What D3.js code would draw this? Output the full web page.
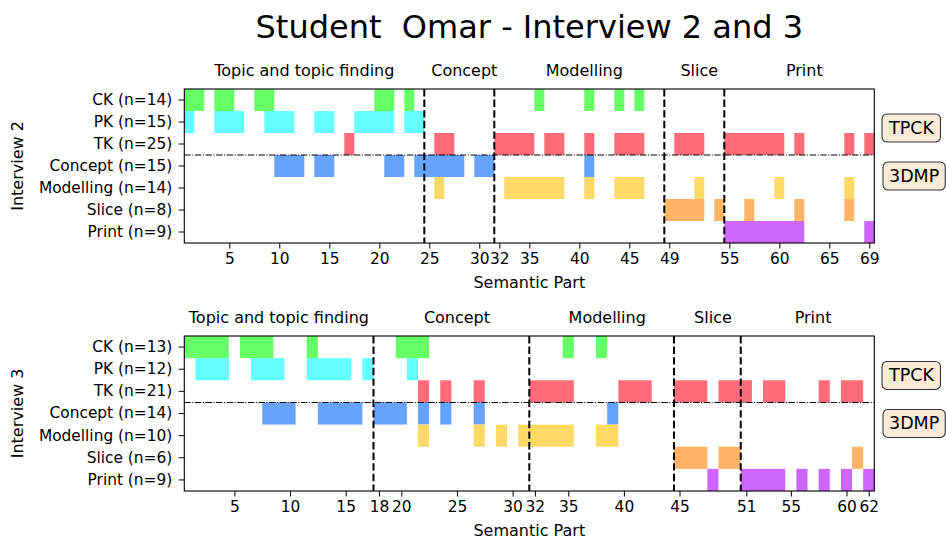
<!DOCTYPE html>
<html><head><meta charset="utf-8">
<script src="https://cdn.jsdelivr.net/npm/d3@7"></script>
<style>body{margin:0;background:#fff}svg{display:block}</style>
</head><body><svg id="c" width="946" height="540"></svg>
<script>
// ---------- data ----------
const categories = ["CK","PK","TK","Concept","Modelling","Slice","Print"];
const colors = ["#66ff66","#66ffff","#ff6b78","#66a3ff","#ffd966","#ffb366","#cc66ff"];

const rowLabels2 = ["CK (n=14)","PK (n=15)","TK (n=25)","Concept (n=15)","Modelling (n=14)","Slice (n=8)","Print (n=9)"];
const rowLabels3 = ["CK (n=13)","PK (n=12)","TK (n=21)","Concept (n=14)","Modelling (n=10)","Slice (n=6)","Print (n=9)"];

// Interview 2: semantic parts coded per category
const ck2 = [1,2,4,5,8,9,20,21,23,36,41,44,46];
const pk2 = [1,4,5,6,9,10,11,14,15,18,19,20,21,23,24];
const tk2 = [17,26,27,32,33,34,35,37,38,41,44,45,46,50,51,52,55,56,57,58,59,60,62,67,69];
const concept2 = [10,11,12,14,15,21,22,24,25,26,27,28,30,31,41];
const modelling2 = [26,33,34,35,36,37,38,41,44,45,46,52,60,67];
const slice2 = [49,50,51,52,54,57,62,67];
const print2 = [55,56,57,58,59,60,61,62,69];

// Interview 3
const ck3 = [1,2,3,4,6,7,8,12,20,21,22,35,38];
const pk3 = [2,3,4,7,8,9,12,13,14,15,17,21];
const tk3 = [22,24,27,32,33,34,35,40,41,42,45,46,47,49,50,51,53,54,58,60,61];
const concept3 = [8,9,10,13,14,15,16,18,19,20,22,24,27,39];
const modelling3 = [22,27,29,31,32,33,34,35,38,39];
const slice3 = [45,46,47,49,50,61];
const print3 = [48,51,52,53,54,56,58,60,62];

const ticks2 = [5,10,15,20,25,30,32,35,40,45,49,55,60,65,69];
const ticks3 = [5,10,15,18,20,25,30,32,35,40,45,51,55,60,62];
const phases = ["Topic and topic finding","Concept","Modelling","Slice","Print"];
const phaseStarts2 = [25,32,49,55];
const phaseStarts3 = [18,32,45,51];
const maxPart2 = 69, maxPart3 = 62;

// ---------- drawing ----------
const svg = d3.select("#c");
const FONT = "DejaVu Sans, sans-serif";
const L = 184.3, R = 874.3;

svg.append("text").attr("x", (L+R)/2).attr("y", 38).attr("text-anchor","middle")
  .attr("font-family", FONT).attr("font-size", 32).attr("fill","#000")
  .style("white-space","pre").attr("xml:space","preserve")
  .text("Student  Omar - Interview 2 and 3");

function runs(arr){
  const s = arr.slice().sort((a,b)=>a-b), out=[];
  s.forEach(v=>{ const last=out[out.length-1]; if(last && v===last[1]+1) last[1]=v; else out.push([v,v]); });
  return out;
}

function panel(top, height, rows, labels, ticks, starts, maxPart, ylabel){
  const g = svg.append("g");
  const x = d3.scaleLinear().domain([0.5, maxPart+0.5]).range([L, R]);
  const y = d3.scaleBand().domain(d3.range(categories.length)).range([top, top+height]).padding(0);

  rows.forEach((arr, ri)=>{
    g.append("g").selectAll("rect").data(runs(arr)).join("rect")
      .attr("x", d=>x(d[0]-0.5)).attr("width", d=>x(d[1]+0.5)-x(d[0]-0.5))
      .attr("y", y(ri)).attr("height", y.bandwidth())
      .attr("fill", colors[ri]);
  });

  // separator TPCK / 3DMP
  g.append("line").attr("x1", L).attr("x2", R)
    .attr("y1", y(3)).attr("y2", y(3))
    .attr("stroke","#000").attr("stroke-width",1.1).attr("stroke-dasharray","6.4,1.6,1,1.6");

  // phase boundaries
  g.append("g").selectAll("line").data(starts).join("line")
    .attr("x1", d=>x(d-0.5)).attr("x2", d=>x(d-0.5))
    .attr("y1", top).attr("y2", top+height)
    .attr("stroke","#000").attr("stroke-width",2).attr("stroke-dasharray","7.4,3.2");

  // phase labels
  const edges = [0, ...starts, maxPart+1];
  g.append("g").selectAll("text").data(phases).join("text")
    .attr("x", (d,i)=>x((edges[i]+edges[i+1])/2)).attr("y", top-13)
    .attr("text-anchor","middle").attr("font-family",FONT).attr("font-size",16)
    .text(d=>d);

  // frame
  g.append("rect").attr("x",L).attr("y",top).attr("width",R-L).attr("height",height)
    .attr("fill","none").attr("stroke","#000").attr("stroke-width",1.1);

  // axes
  const xa = g.append("g").attr("transform",`translate(0,${top+height})`)
    .call(d3.axisBottom(x).tickValues(ticks).tickFormat(d3.format("d")).tickSize(5.5).tickPadding(5).tickSizeOuter(0));
  xa.select(".domain").remove();
  xa.selectAll("text").attr("font-family",FONT).attr("font-size",15.4).attr("fill","#000");
  xa.selectAll("line").attr("stroke","#000");

  const ya = g.append("g").attr("transform",`translate(${L},0)`)
    .call(d3.axisLeft(y).tickFormat(i=>labels[i]).tickSize(5.5).tickPadding(6.5).tickSizeOuter(0));
  ya.select(".domain").remove();
  ya.selectAll("text").attr("font-family",FONT).attr("font-size",15.4).attr("fill","#000");
  ya.selectAll("line").attr("stroke","#000");

  g.append("text").attr("x",(L+R)/2).attr("y", top+height+45).attr("text-anchor","middle")
    .attr("font-family",FONT).attr("font-size",16).text("Semantic Part");

  g.append("text").attr("transform",`translate(23,${top+height/2}) rotate(-90)`)
    .attr("text-anchor","middle").attr("font-family",FONT).attr("font-size",16).text(ylabel);

  // side boxes
  [["TPCK", y(3)-27], ["3DMP", y(3)+21]].forEach(([t, cy])=>{
    const bg = g.append("g");
    const r = bg.append("rect");
    const tx = bg.append("text").attr("x", 889).attr("y", cy).attr("dominant-baseline","central")
      .attr("font-family",FONT).attr("font-size",17.5).text(t);
    const b = tx.node().getBBox();
    r.attr("x", b.x-6).attr("y", b.y-4).attr("width", b.width+12).attr("height", b.height+8)
      .attr("rx",5).attr("fill","#f9ebd6").attr("stroke","#333").attr("stroke-width",1.1);
  });
}

panel(89, 154,
  [ck2, pk2, tk2, concept2, modelling2, slice2, print2],
  rowLabels2, ticks2, phaseStarts2, maxPart2, "Interview 2");
panel(336, 155,
  [ck3, pk3, tk3, concept3, modelling3, slice3, print3],
  rowLabels3, ticks3, phaseStarts3, maxPart3, "Interview 3");
</script></body></html>
